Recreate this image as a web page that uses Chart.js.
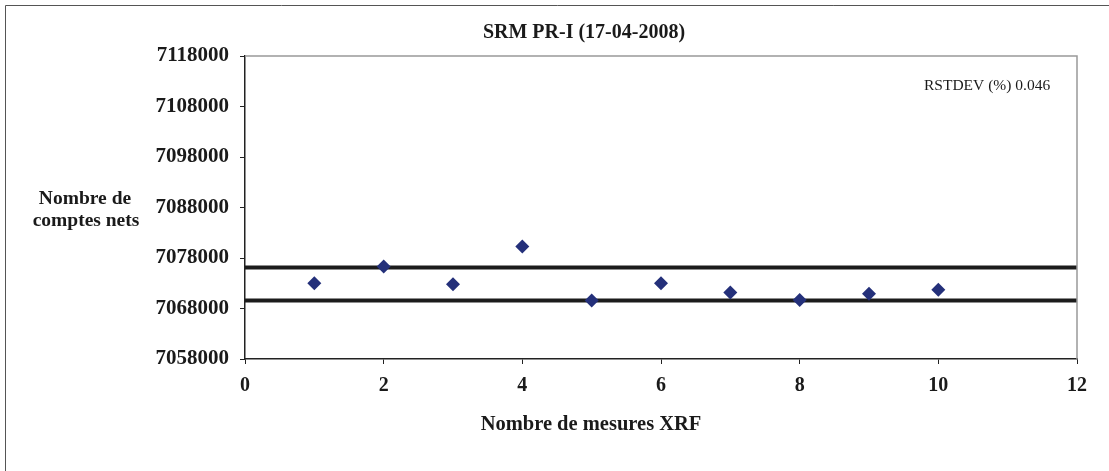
<!DOCTYPE html>
<html>
<head>
<meta charset="utf-8">
<script src="https://cdn.jsdelivr.net/npm/chart.js@4.4.0/dist/chart.umd.min.js"></script>
<style>
  html, body { margin: 0; padding: 0; background: #fff; }
  #wrap { width: 1109px; height: 471px; }
</style>
</head>
<body>
<div id="wrap"><canvas id="graph1" width="1109" height="471"></canvas></div>
<script>
// data
var mesures = [1, 2, 3, 4, 5, 6, 7, 8, 9, 10];
var comptes = [7073000, 7076300, 7072800, 7080300, 7069600, 7073000, 7071150, 7069700, 7070900, 7071700];
var limiteHaute = 7076100;
var limiteBasse = 7069600;
var xTicks = [0, 2, 4, 6, 8, 10, 12];
var yTicks = [7058000, 7068000, 7078000, 7088000, 7098000, 7108000, 7118000];

var serif = "'Liberation Serif', 'Times New Roman', serif";

var points = mesures.map(function (m, i) { return { x: m, y: comptes[i] }; });
var xMin = xTicks[0], xMax = xTicks[xTicks.length - 1];

var decor = {
  id: 'decor',
  beforeDraw: function (chart) {
    var ctx = chart.ctx;
    ctx.save();
    ctx.fillStyle = '#fff';
    ctx.fillRect(0, 0, chart.width, chart.height);
    // outer frame (cut on right and bottom)
    ctx.strokeStyle = '#555';
    ctx.lineWidth = 1;
    ctx.beginPath();
    ctx.moveTo(5.5, 471);
    ctx.lineTo(5.5, 5.5);
    ctx.lineTo(1109, 5.5);
    ctx.stroke();
    ctx.restore();
  },
  afterDraw: function (chart) {
    var ctx = chart.ctx, a = chart.chartArea;
    ctx.save();
    // gray top and right of plot area
    ctx.strokeStyle = '#999';
    ctx.lineWidth = 1.5;
    ctx.beginPath();
    ctx.moveTo(a.left, a.top);
    ctx.lineTo(a.right, a.top);
    ctx.lineTo(a.right, a.bottom);
    ctx.stroke();

    ctx.fillStyle = '#1a1a1a';
    ctx.textAlign = 'center';
    ctx.textBaseline = 'middle';
    ctx.font = 'bold 20px ' + serif;
    ctx.fillText('SRM PR-I (17-04-2008)', 584, 33);

    ctx.font = 'bold 19.5px ' + serif;
    ctx.fillText('Nombre de', 85, 199);
    ctx.fillText('comptes nets', 86, 221);
    ctx.font = 'bold 20.5px ' + serif;
    ctx.fillText('Nombre de mesures XRF', 591, 425);

    ctx.font = '15.5px ' + serif;
    ctx.textAlign = 'left';
    ctx.fillText('RSTDEV (%) 0.046', 924, 86);
    ctx.restore();
  }
};

var context = document.getElementById('graph1').getContext('2d');
var chart = new Chart(context, {
  type: 'scatter',
  data: {
    datasets: [{
        label: 'mesures',
        data: points,
        pointStyle: 'rectRot',
        pointRadius: 7,
        pointHoverRadius: 7,
        backgroundColor: '#24307a',
        borderColor: '#24307a',
        borderWidth: 0,
        order: 0
      }, {
        label: 'haute',
        type: 'line',
        data: [{ x: xMin, y: limiteHaute }, { x: xMax, y: limiteHaute }],
        borderColor: '#1c1c1c',
        borderWidth: 4,
        pointRadius: 0,
        order: 1
      }, {
        label: 'basse',
        type: 'line',
        data: [{ x: xMin, y: limiteBasse }, { x: xMax, y: limiteBasse }],
        borderColor: '#1c1c1c',
        borderWidth: 4,
        pointRadius: 0,
        order: 1
      }]
  },
  options: {
    responsive: false,
    animation: false,
    events: [],
    layout: { padding: { left: 0, right: 32, top: 56, bottom: 0 } },
    plugins: {
      legend: { display: false },
      title: { display: false },
      tooltip: { enabled: false }
    },
    scales: {
      x: {
        type: 'linear',
        min: xMin,
        max: xMax,
        afterBuildTicks: function (s) { s.ticks = xTicks.map(function (v) { return { value: v }; }); },
        afterFit: function (s) { s.height = 112; },
        border: { color: '#222', width: 1.5 },
        grid: { drawOnChartArea: false, drawTicks: true, tickLength: 5, color: '#222' },
        ticks: {
          color: '#1a1a1a',
          padding: 10,
          font: { family: serif, size: 20, weight: 'bold' }
        }
      },
      y: {
        type: 'linear',
        min: yTicks[0],
        max: yTicks[yTicks.length - 1],
        afterBuildTicks: function (s) { s.ticks = yTicks.map(function (v) { return { value: v }; }); },
        afterFit: function (s) { s.width = 245; },
        border: { color: '#222', width: 1.5 },
        grid: { drawOnChartArea: false, drawTicks: true, tickLength: 5, color: '#222' },
        ticks: {
          color: '#1a1a1a',
          padding: 11,
          callback: function (v) { return String(v); },
          font: { family: serif, size: 21, weight: 'bold' }
        }
      }
    }
  },
  plugins: [decor]
});
</script>
</body>
</html>
